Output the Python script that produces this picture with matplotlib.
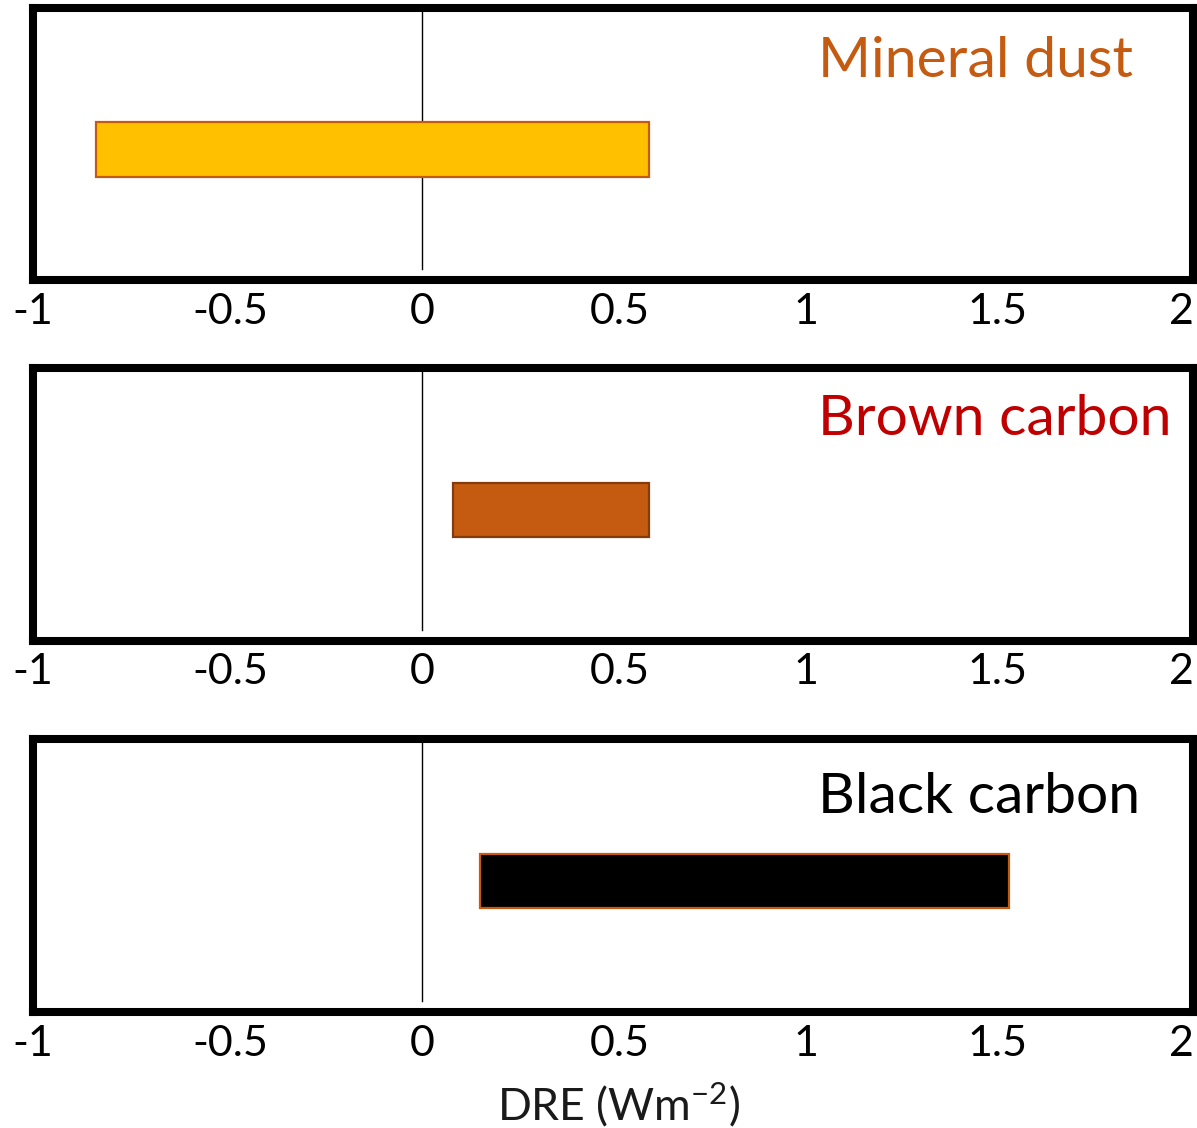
import numpy as np
import matplotlib.pyplot as plt
import matplotlib.transforms as mtransforms

plt.rcParams['font.family'] = ['Lato', 'DejaVu Sans']
plt.rcParams['axes.unicode_minus'] = False
plt.rcParams['mathtext.fontset'] = 'custom'
plt.rcParams['mathtext.rm'] = 'Lato'
plt.rcParams['mathtext.it'] = 'Lato'

# data
aerosols = ["Mineral dust", "Brown carbon", "Black carbon"]
dre_low = [-0.85, 0.08, 0.15]
dre_high = [0.59, 0.59, 1.53]
bar_fill = ["#FFC000", "#C55A11", "#000000"]
bar_edge = ["#C55A11", "#843C0C", "#C55A11"]
title_color = ["#C55A11", "#C00000", "#000000"]
tick_vals = [-1, -0.5, 0, 0.5, 1, 1.5, 2]
tick_text = ["-1", "-0.5", "0", "0.5", "1", "1.5", "2"]
# small nudges of the labels (pixels), as in the original slide
tick_nudge = [-5, 0, 0, 6, 0, 0, -8]

W, H = 1197, 1128
fig = plt.figure(figsize=(W / 100, H / 100), dpi=100)

# panel boxes in pixels (top, bottom)
boxes = [(8, 280), (368, 641), (739, 1012)]
title_base = [77, 435, 813]
left_px, right_px = 33, 1193

for i, name in enumerate(aerosols):
    top, bot = boxes[i]
    ax = fig.add_axes([left_px / W, 1 - bot / H, (right_px - left_px) / W, (bot - top) / H])
    ax.set_xlim(-1.013, 2.008)
    ax.set_ylim(0, 1)
    for s in ax.spines.values():
        s.set_linewidth(5.8)
        s.set_color("black")
    ax.axvline(0, ymin=0.04, ymax=1, color="black", lw=1.0, zorder=1)
    ax.barh(0.48, dre_high[i] - dre_low[i], left=dre_low[i], height=0.2,
            color=bar_fill[i], edgecolor=bar_edge[i], linewidth=1.6, zorder=2)
    ax.set_yticks([])
    ax.set_xticks(tick_vals)
    ax.set_xticklabels(tick_text, fontsize=31)
    ax.tick_params(axis="x", length=0, pad=9)
    for lab, dx in zip(ax.get_xticklabels(), tick_nudge):
        lab.set_transform(lab.get_transform() +
                          mtransforms.ScaledTranslation(dx / 100, 0, fig.dpi_scale_trans))
    fig.text(818 / W, 1 - title_base[i] / H, name, color=title_color[i],
             fontsize=41, ha="left", va="baseline")

fig.text(618 / W, 1 - 1120 / H, r"DRE (Wm$^{\mathrm{-2}}$)", fontsize=32,
         ha="center", va="baseline", color="#1a1a1a")

fig.savefig("out.png", dpi=100)
